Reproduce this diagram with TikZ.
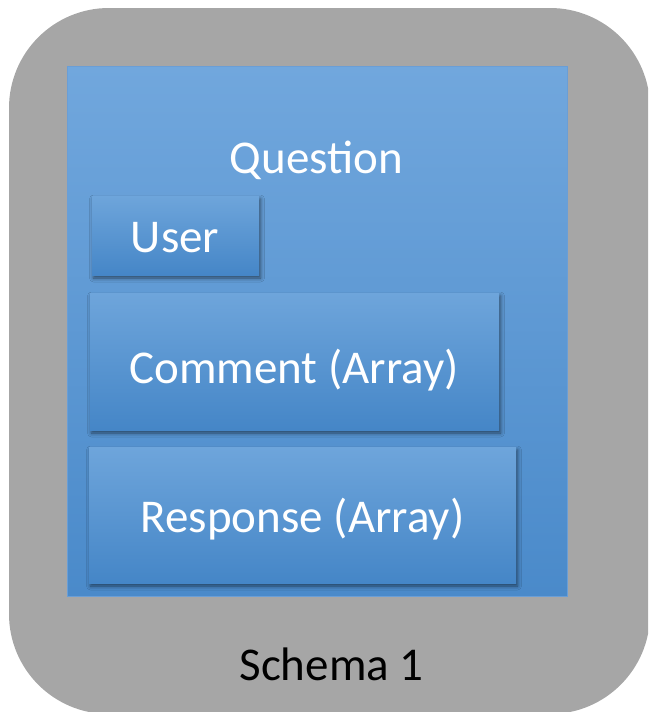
\documentclass[tikz,border=0pt]{standalone}
\usepackage{fontspec}
\setmainfont{Carlito}
\usetikzlibrary{shadows.blur}
\definecolor{panelgray}{HTML}{A6A6A6}
\definecolor{paneltop}{HTML}{71A7DD}
\definecolor{panelbot}{HTML}{4A8ACA}
\definecolor{paneledge}{HTML}{6A9ED6}
\definecolor{boxtop}{HTML}{6EA5DB}
\definecolor{boxbot}{HTML}{4586C7}
\tikzset{
  panel/.style={draw=paneledge, line width=0.8pt, top color=paneltop, bottom color=panelbot,
    inner sep=0pt, outer sep=0pt},
  field/.style={top color=boxtop, bottom color=boxbot, inner sep=0pt, outer sep=0pt,
    blur shadow={shadow xshift=1.5pt, shadow yshift=-3pt, shadow blur radius=4pt, shadow opacity=55}},
  lbl/.style={text=white, font=\fontsize{47}{56}\selectfont, inner sep=0pt, anchor=base},
  caption/.style={text=black, font=\fontsize{47}{56}\selectfont, inner sep=0pt, anchor=base}
}
\begin{document}
\begin{tikzpicture}[x=1pt,y=-1pt]
\useasboundingbox (0,0) rectangle (648,712);
\clip (0,0) rectangle (648,712);
% grey schema container
\fill[panelgray, rounded corners=100pt] (9,8) rectangle (650,714);
% Question document
\node[panel, minimum width=500pt, minimum height=530pt] (question) at (317,331) {};
\node[lbl] (tquestion) at (316.5,173) {Question};
% embedded fields
\node[field, minimum width=167pt, minimum height=79pt] (user) at (175.5,235.5) {};
\node[lbl] (tuser) at (175,252) {User};
\node[field, minimum width=409pt, minimum height=137pt] (comment) at (294.5,361.5) {};
\node[lbl] (tcomment) at (294,383) {Comment (Array)};
\node[field, minimum width=427pt, minimum height=136pt] (response) at (302.5,515) {};
\node[lbl] (tresponse) at (302.5,532) {Response (Array)};
% schema caption
\node[caption] (schema) at (331.5,680) {Schema 1};
\end{tikzpicture}
\end{document}
